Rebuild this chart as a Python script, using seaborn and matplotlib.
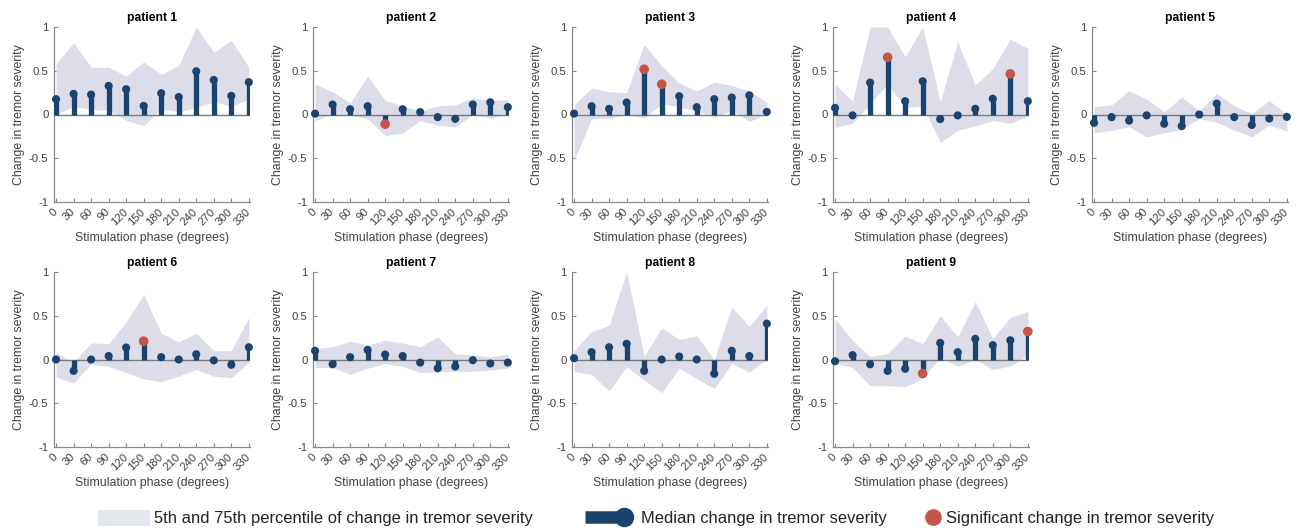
import matplotlib
matplotlib.use("Agg")
import numpy as np
import pandas as pd
import seaborn as sns
import matplotlib.pyplot as plt
from matplotlib.patches import Patch
from matplotlib.lines import Line2D
from matplotlib.legend_handler import HandlerBase

# ---------------- data ----------------
phases = [0, 30, 60, 90, 120, 150, 180, 210, 240, 270, 300, 330]
ytick_vals = [-1, -0.5, 0, 0.5, 1]
ytick_labels = ["-1", "-0.5", "0", "0.5", "1"]

p1_median = [0.175, 0.236, 0.228, 0.327, 0.289, 0.099, 0.243, 0.20, 0.494, 0.395, 0.213, 0.369]
p1_hi = [0.58, 0.82, 0.54, 0.54, 0.44, 0.60, 0.46, 0.56, 1.0, 0.71, 0.85, 0.54]
p1_lo = [0.0, 0.095, 0.057, 0.05, -0.065, -0.13, 0.07, 0.03, 0.08, 0.145, 0.095, 0.175]
p1_sig = []

p2_median = [0.01, 0.114, 0.06, 0.095, -0.11, 0.06, 0.027, -0.03, -0.05, 0.114, 0.14, 0.084]
p2_hi = [0.35, 0.26, 0.13, 0.44, 0.16, 0.10, 0.04, 0.10, 0.11, 0.19, 0.16, 0.17]
p2_lo = [-0.07, 0.01, -0.01, -0.05, -0.24, -0.21, -0.07, -0.12, -0.14, 0.0, -0.04, 0.0]
p2_sig = [120]

p3_median = [0.01, 0.095, 0.065, 0.137, 0.517, 0.346, 0.209, 0.084, 0.175, 0.194, 0.22, 0.03]
p3_hi = [0.11, 0.30, 0.26, 0.25, 0.80, 0.555, 0.36, 0.27, 0.37, 0.33, 0.27, 0.14]
p3_lo = [-0.53, -0.05, -0.04, 0.0, -0.04, 0.12, 0.09, 0.04, -0.03, 0.05, -0.08, 0.01]
p3_sig = [120, 150]

p4_median = [0.076, -0.01, 0.365, 0.654, 0.152, 0.38, -0.053, -0.01, 0.065, 0.18, 0.464, 0.152]
p4_hi = [0.345, 0.15, 1.0, 1.0, 0.66, 1.0, 0.145, 0.83, 0.335, 0.525, 0.86, 0.755]
p4_lo = [-0.15, -0.10, 0.12, 0.35, 0.08, 0.10, -0.32, -0.18, -0.13, -0.07, -0.10, -0.02]
p4_sig = [90, 300]

p5_median = [-0.095, -0.03, -0.07, -0.01, -0.106, -0.133, 0.0, 0.125, -0.03, -0.12, -0.046, -0.027]
p5_hi = [0.09, 0.11, 0.27, 0.175, 0.03, 0.20, 0.04, 0.24, 0.10, 0.01, 0.16, 0.0]
p5_lo = [-0.21, -0.18, -0.14, -0.255, -0.21, -0.17, -0.045, -0.09, -0.18, -0.255, -0.12, -0.19]
p5_sig = []

p6_median = [0.0, -0.13, 0.0, 0.04, 0.137, 0.21, 0.027, 0.0, 0.06, -0.01, -0.06, 0.14]
p6_hi = [0.08, -0.03, 0.19, 0.18, 0.43, 0.745, 0.30, 0.20, 0.30, 0.10, 0.10, 0.48]
p6_lo = [-0.20, -0.27, -0.05, -0.08, -0.15, -0.22, -0.255, -0.19, -0.115, -0.19, -0.21, -0.03]
p6_sig = [150]

p7_median = [0.10, -0.055, 0.027, 0.11, 0.057, 0.04, -0.035, -0.10, -0.08, -0.008, -0.046, -0.035]
p7_hi = [0.125, 0.145, 0.21, 0.165, 0.22, 0.19, 0.145, 0.26, 0.065, 0.05, 0.03, 0.065]
p7_lo = [-0.09, -0.09, -0.17, -0.10, -0.046, -0.08, -0.15, -0.14, -0.135, -0.135, -0.12, -0.10]
p7_sig = []

p8_median = [0.015, 0.084, 0.14, 0.18, -0.13, 0.0, 0.034, 0.0, -0.163, 0.10, 0.04, 0.41]
p8_hi = [0.10, 0.32, 0.39, 1.0, 0.04, 0.36, 0.23, 0.27, 0.0, 0.60, 0.38, 0.62]
p8_lo = [-0.14, -0.17, -0.36, -0.085, -0.235, -0.38, -0.10, -0.22, -0.33, -0.045, -0.145, 0.0]
p8_sig = []

p9_median = [-0.02, 0.05, -0.055, -0.13, -0.106, -0.16, 0.19, 0.084, 0.236, 0.164, 0.22, 0.32]
p9_hi = [0.465, 0.22, 0.03, 0.07, 0.27, 0.18, 0.50, 0.26, 0.66, 0.24, 0.48, 0.55]
p9_lo = [-0.04, -0.09, -0.30, -0.30, -0.31, -0.22, 0.03, -0.08, 0.0, -0.115, -0.075, 0.05]
p9_sig = [150, 330]

patient_names = ["patient 1", "patient 2", "patient 3", "patient 4", "patient 5",
                 "patient 6", "patient 7", "patient 8", "patient 9"]

legend_labels = ["5th and 75th percentile of change in tremor severity",
                 "Median change in tremor severity",
                 "Significant change in tremor severity"]

# ---------------- style ----------------
NAVY = "#1b436e"
RED = "#c45648"
FILL = "#dcdde9"
GRAY = "#8a8a8a"
TXT = "#404040"

sns.set_theme(style="white")
plt.rcParams["font.family"] = ["Liberation Sans", "DejaVu Sans"]

W, H = 1304, 528
fig = plt.figure(figsize=(W / 100, H / 100), dpi=100)

lefts = [54, 313, 572, 833, 1092]
tops = [27, 272]
aw, ah = 196, 175

series = [
    (p1_median, p1_lo, p1_hi, p1_sig),
    (p2_median, p2_lo, p2_hi, p2_sig),
    (p3_median, p3_lo, p3_hi, p3_sig),
    (p4_median, p4_lo, p4_hi, p4_sig),
    (p5_median, p5_lo, p5_hi, p5_sig),
    (p6_median, p6_lo, p6_hi, p6_sig),
    (p7_median, p7_lo, p7_hi, p7_sig),
    (p8_median, p8_lo, p8_hi, p8_sig),
    (p9_median, p9_lo, p9_hi, p9_sig),
]

for i, (name, (med, lo, hi, sig)) in enumerate(zip(patient_names, series)):
    r, c = divmod(i, 5)
    ax = fig.add_axes([lefts[c] / W, 1 - (tops[r] + ah) / H, aw / W, ah / H])
    ax.fill_between(phases, lo, hi, color=FILL, lw=0, zorder=1)
    ax.axhline(0, color="#7a7a7a", lw=1.0, zorder=2)
    ax.vlines(phases, 0, med, color=NAVY, lw=3.8, zorder=3)
    df = pd.DataFrame({"phase": phases, "median": med})
    sns.scatterplot(data=df, x="phase", y="median", ax=ax, color=NAVY, s=34,
                    edgecolor="none", linewidth=0, zorder=4, clip_on=False, legend=False)
    sdf = df[df["phase"].isin(sig)]
    if len(sdf):
        sns.scatterplot(data=sdf, x="phase", y="median", ax=ax, color=RED, s=48,
                        edgecolor="none", linewidth=0, zorder=5, clip_on=False, legend=False)

    ax.set_xlim(-3.5, 332)
    ax.set_ylim(-1, 1)
    ax.set_xticks(phases)
    ax.set_xticklabels([str(p) for p in phases], rotation=45, ha="right",
                       va="center", rotation_mode="anchor", fontsize=8.2, color=TXT)
    ax.set_yticks(ytick_vals)
    ax.set_yticklabels(ytick_labels, fontsize=8.2, color=TXT)
    ax.tick_params(axis="both", direction="in", length=3, width=0.8, color=GRAY,
                   pad=4, left=True, bottom=True)
    ax.tick_params(axis="x", pad=6)
    for s in ["top", "right"]:
        ax.spines[s].set_visible(False)
    for s in ["left", "bottom"]:
        ax.spines[s].set_color(GRAY)
        ax.spines[s].set_linewidth(0.9)
    ax.set_xlabel("Stimulation phase (degrees)", fontsize=8.8, color=TXT, labelpad=3)
    ax.set_ylabel("Change in tremor severity", fontsize=8.8, color=TXT, labelpad=3)
    ax.set_title(name, fontsize=8.7, fontweight="bold", color="black", pad=4)
    ax.set_facecolor("white")


class StemHandler(HandlerBase):
    def create_artists(self, legend, orig_handle, xdescent, ydescent, width,
                       height, fontsize, trans):
        y = height / 2 - ydescent
        x0 = -xdescent
        xe = x0 + width - 8
        line = Line2D([x0, xe], [y, y], color=NAVY, lw=9,
                      solid_capstyle="butt", transform=trans)
        dot = Line2D([xe], [y], marker="o", ms=13, color=NAVY,
                     ls="none", transform=trans)
        return [line, dot]


LFS = 11.9
em = LFS * 100 / 72.0
ly = 1 - 518 / H

h_fill = Patch(facecolor="#e4e7ee", edgecolor="none")
h_med = Line2D([0], [0], color=NAVY)
h_sig = Line2D([0], [0], marker="o", ls="none", ms=11, color=RED)

common = dict(loc="center left", frameon=False, fontsize=LFS, borderpad=0,
              borderaxespad=0, labelcolor="#222222")

leg1 = fig.legend([h_fill], [legend_labels[0]], bbox_to_anchor=(98 / W, ly),
                  handlelength=52 / em, handleheight=1.15, handletextpad=4 / em, **common)
leg2 = fig.legend([h_med], [legend_labels[1]], handler_map={h_med: StemHandler()},
                  bbox_to_anchor=(585 / W, ly), handlelength=50 / em,
                  handletextpad=6 / em, **common)
leg3 = fig.legend([h_sig], [legend_labels[2]], bbox_to_anchor=(925 / W, ly),
                  handlelength=16 / em, handletextpad=5 / em, **common)

fig.savefig("out.png", dpi=100, facecolor="white")
